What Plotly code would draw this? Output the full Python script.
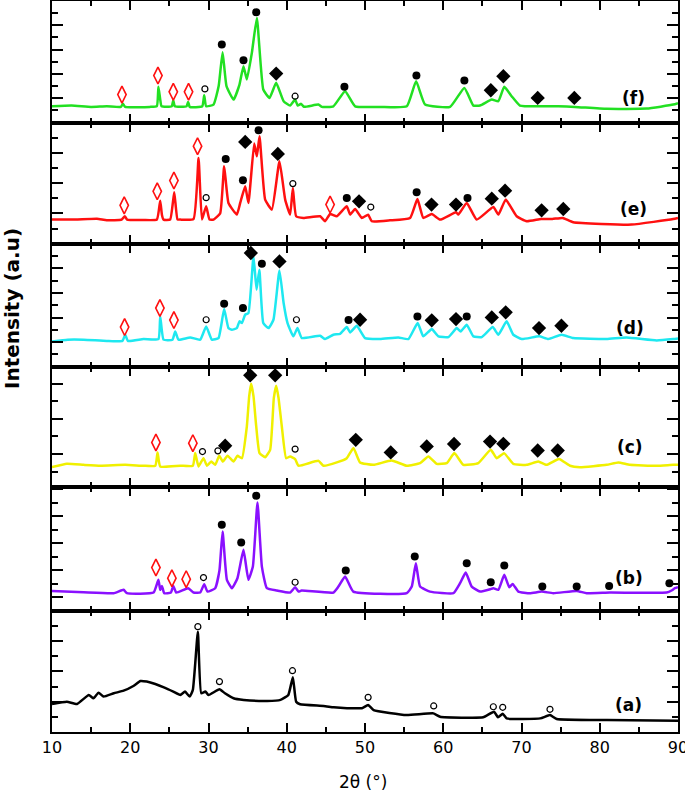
import plotly.graph_objects as go
from plotly.subplots import make_subplots

# XRD patterns, (2theta, intensity), arbitrary units per panel
f_xy = [(10.0, 1.34), (12.5, 1.4), (15.0, 1.29), (17.0, 1.34), (18.8, 1.29), (19.07, 1.54), (19.35, 1.29),
        (22.5, 1.29), (23.4, 1.35), (23.6, 2.94), (23.83, 1.9), (24.0, 1.34), (25.3, 1.34), (25.5, 1.84),
        (25.7, 1.34), (27.2, 1.34), (27.4, 1.70), (27.6, 1.29), (29.2, 1.34), (29.45, 2.25), (29.7, 1.34),
        (30.64, 1.48), (31.3, 3.0), (31.8, 5.79), (32.3, 3.0), (33.2, 1.89), (33.96, 3.13), (34.47, 4.64),
        (34.9, 3.54), (35.54, 5.73), (36.18, 8.61), (37.0, 2.72), (37.8, 2.03), (38.65, 3.27), (39.6, 1.76),
        (40.43, 1.40), (41.07, 1.89), (41.4, 1.4), (41.84, 1.54), (42.2, 1.3), (44.05, 1.48), (44.5, 1.29),
        (45.96, 1.34), (47.46, 2.58), (48.74, 1.34), (52.0, 1.29), (55.34, 1.34), (56.53, 3.40),
        (57.68, 1.48), (60.87, 1.29), (62.7, 2.85), (63.85, 1.40), (64.7, 1.40), (66.19, 1.89),
        (67.04, 1.76), (67.8, 2.94), (68.74, 2.17), (69.8, 1.40), (72.27, 1.34), (74.7, 1.34),
        (76.83, 1.29), (80.87, 1.13), (86.0, 1.15), (89.39, 1.48), (90.0, 1.6)]

e_xy = [(10.0, 1.59), (13.0, 1.6), (15.74, 1.65), (17.0, 1.55), (18.9, 1.59), (19.3, 1.81), (19.6, 1.59),
        (21.7, 1.56), (23.41, 1.6), (23.83, 2.84), (24.05, 1.9), (24.26, 1.59), (25.1, 1.6), (25.62, 3.39),
        (26.04, 1.6), (26.39, 1.59), (28.08, 1.62), (28.73, 5.66), (29.16, 1.59), (29.7, 2.47),
        (30.13, 1.59), (30.64, 1.59), (31.49, 2.0), (32.0, 5.11), (32.55, 2.69), (33.62, 1.92),
        (34.05, 2.69), (34.69, 3.79), (35.1, 2.69), (35.84, 6.61), (36.18, 5.77), (36.52, 7.10),
        (37.24, 2.91), (38.1, 2.25), (39.07, 5.44), (39.8, 2.91), (40.43, 1.92), (40.78, 3.68),
        (41.2, 1.81), (42.13, 1.70), (44.27, 1.81), (44.9, 1.48), (45.54, 1.96), (46.4, 1.81),
        (47.67, 2.47), (48.1, 1.92), (48.74, 2.29), (49.59, 1.70), (50.4, 1.92), (50.87, 1.48),
        (53.2, 1.54), (55.76, 1.70), (56.7, 2.95), (57.45, 1.70), (58.53, 1.96), (59.6, 1.59),
        (61.63, 2.07), (61.93, 1.92), (63.0, 2.69), (64.28, 1.59), (66.4, 2.42), (67.04, 1.92),
        (67.98, 2.91), (69.38, 1.81), (70.66, 1.48), (72.5, 1.63), (73.94, 1.63), (75.26, 1.70),
        (76.61, 1.41), (84.07, 1.26), (89.39, 1.63), (90.0, 1.7)]

d_xy = [(10.0, 2.06), (12.0, 2.2), (14.04, 2.2), (17.0, 2.1), (19.0, 2.1), (19.36, 2.6), (19.7, 2.1),
        (21.7, 2.25), (23.6, 2.25), (23.83, 4.09), (24.26, 2.2), (25.4, 2.2), (25.75, 2.87), (26.17, 2.2),
        (27.66, 2.38), (28.94, 2.2), (29.7, 3.28), (30.43, 2.2), (31.28, 2.33), (32.0, 4.69),
        (32.55, 3.14), (32.99, 3.01), (33.62, 3.14), (33.96, 3.69), (34.27, 3.55), (34.69, 4.23),
        (35.1, 4.36), (35.75, 8.97), (36.14, 6.26), (36.5, 7.89), (37.0, 3.55), (37.67, 3.14),
        (38.3, 3.82), (39.07, 7.83), (39.6, 5.18), (40.1, 3.55), (40.85, 2.47), (41.37, 3.14),
        (41.93, 2.33), (44.27, 2.52), (44.9, 2.25), (45.96, 2.6), (46.82, 2.68), (47.67, 3.22),
        (48.1, 2.79), (48.95, 3.33), (50.0, 2.33), (51.92, 2.25), (54.26, 2.38), (55.54, 2.25),
        (56.73, 3.55), (57.45, 2.47), (58.53, 3.06), (59.38, 2.47), (60.66, 2.41), (61.72, 3.14),
        (62.23, 2.87), (63.0, 3.41), (63.85, 2.47), (64.92, 2.41), (66.32, 3.22), (67.04, 2.6),
        (68.1, 3.69), (68.95, 2.6), (70.02, 2.25), (72.27, 2.47), (73.42, 2.25), (75.12, 2.6),
        (76.61, 2.33), (80.87, 2.25), (83.43, 2.38), (87.26, 2.14), (89.39, 2.25), (90.0, 2.3)]

c_xy = [(10.0, 0.25), (11.9, 0.44), (14.04, 0.38), (16.17, 0.33), (19.36, 0.38), (21.7, 0.33),
        (23.2, 0.33), (23.49, 1.09), (23.83, 0.29), (26.39, 0.33), (28.0, 0.33), (28.3, 1.05),
        (28.72, 0.29), (29.36, 0.76), (29.8, 0.33), (30.35, 0.57), (30.86, 0.38), (31.37, 0.90),
        (31.84, 0.57), (32.43, 0.90), (33.2, 0.57), (33.7, 0.90), (34.27, 0.76), (34.9, 2.57),
        (35.2, 4.3), (35.45, 5.01), (35.75, 4.3), (36.1, 2.57), (36.52, 1.05), (37.24, 0.82),
        (37.88, 1.24), (38.35, 4.2), (38.65, 4.9), (38.95, 4.2), (39.37, 2.57), (39.92, 0.76),
        (40.43, 0.86), (41.07, 0.71), (41.5, 0.33), (44.05, 0.61), (44.69, 0.33), (46.4, 0.52),
        (47.67, 0.76), (48.52, 1.34), (49.37, 0.52), (51.07, 0.38), (53.4, 0.63), (55.34, 0.33),
        (57.04, 0.48), (58.1, 0.86), (59.17, 0.44), (60.45, 0.48), (61.42, 1.05), (62.57, 0.38),
        (64.48, 0.48), (66.07, 1.24), (66.83, 0.76), (67.77, 1.05), (68.95, 0.44), (70.66, 0.38),
        (72.15, 0.57), (73.2, 0.38), (74.8, 0.71), (76.2, 0.33), (77.47, 0.25), (80.88, 0.38),
        (82.37, 0.52), (83.86, 0.38), (87.27, 0.33), (89.39, 0.38), (90.0, 0.38)]

b_xy = [(10.0, 1.48), (14.04, 1.38), (17.87, 1.31), (19.15, 1.56), (19.58, 1.31), (22.98, 1.36),
        (23.6, 2.3), (23.83, 1.56), (24.05, 1.85), (24.34, 1.31), (25.2, 1.36), (25.5, 1.85),
        (25.87, 1.36), (27.4, 1.68), (28.08, 1.36), (28.94, 1.36), (29.45, 1.98), (29.87, 1.43),
        (30.86, 1.68), (31.4, 3.0), (31.8, 5.87), (32.35, 2.3), (32.99, 1.68), (33.7, 2.42),
        (34.47, 4.52), (35.1, 2.3), (35.67, 3.28), (36.26, 8.02), (36.82, 3.28), (37.46, 1.68),
        (38.73, 1.51), (40.43, 1.36), (41.07, 1.75), (41.5, 1.43), (41.9, 1.51), (45.96, 1.36),
        (46.6, 1.8), (47.46, 2.54), (48.5, 1.43), (55.34, 1.31), (55.98, 1.8), (56.5, 3.53),
        (57.04, 1.8), (58.3, 1.43), (61.3, 1.31), (62.15, 2.05), (62.87, 2.84), (63.64, 1.8),
        (64.7, 1.43), (66.0, 1.6), (66.4, 1.68), (67.04, 1.56), (67.8, 2.67), (68.44, 1.75),
        (68.87, 2.0), (69.6, 1.43), (71.09, 1.31), (72.58, 1.43), (74.06, 1.31), (77.05, 1.48),
        (78.33, 1.31), (81.3, 1.36), (88.54, 1.36), (89.18, 1.51), (89.6, 1.68), (90.0, 1.75)]

a_xy = [(10.0, 1.85), (11.9, 2.0), (13.2, 1.85), (14.7, 2.45), (15.3, 2.23), (15.95, 2.6), (16.6, 2.34),
        (17.9, 2.56), (19.15, 2.73), (20.4, 3.04), (21.3, 3.37), (22.1, 3.33), (23.2, 3.17),
        (24.3, 2.95), (25.5, 2.67), (26.4, 2.45), (27.0, 2.67), (27.6, 2.34), (28.0, 2.78),
        (28.64, 6.63), (29.07, 2.56), (29.6, 2.67), (30.0, 2.45), (31.4, 2.82), (32.1, 2.56),
        (33.2, 2.23), (34.5, 2.12), (37.5, 2.05), (39.2, 2.12), (40.2, 2.45), (40.78, 3.62),
        (41.2, 2.0), (41.7, 1.83), (44.7, 1.72), (46.0, 1.63), (47.7, 1.57), (48.5, 1.57),
        (49.6, 1.57), (50.4, 1.78), (51.1, 1.45), (55.3, 1.12), (58.74, 1.23), (59.6, 1.01),
        (65.1, 0.97), (66.49, 1.34), (67.0, 0.97), (67.6, 1.2), (68.1, 0.9), (72.4, 0.9),
        (73.64, 1.12), (74.5, 0.86), (80.9, 0.79), (90.0, 0.75)]

# peak markers: filled circle, filled diamond, open red diamond, small open circle
f_circ = [(31.7, 6.42), (34.47, 5.13), (36.1, 9.08), (47.37, 2.94), (56.57, 3.87), (62.7, 3.46)]
f_dia = [(38.65, 4.03), (66.08, 2.66), (67.68, 3.81), (72.07, 2.03), (76.75, 2.03)]
f_rdia = [(18.94, 2.3), (23.54, 3.87), (25.5, 2.53), (27.45, 2.53)]
f_ocirc = [(29.54, 2.77), (41.07, 2.17)]

e_circ = [(32.2, 5.6), (34.4, 4.19), (36.4, 7.49), (47.67, 3.02), (56.6, 3.39), (63.1, 3.02)]
e_dia = [(34.69, 6.72), (38.86, 5.93), (49.24, 2.8), (58.5, 2.58), (61.63, 2.58), (66.2, 2.97),
         (67.9, 3.5), (72.57, 2.2), (75.34, 2.29)]
e_rdia = [(19.23, 2.53), (23.45, 3.46), (25.58, 4.17), (28.6, 6.44), (45.54, 2.58)]
e_ocirc = [(29.7, 3.04), (40.78, 3.97), (50.74, 2.42)]

d_circ = [(32.0, 5.12), (34.4, 4.77), (36.82, 8.37), (47.9, 3.79), (56.7, 4.09), (63.0, 4.09)]
d_dia = [(35.41, 9.24), (39.07, 8.56), (49.37, 3.82), (58.53, 3.77), (61.63, 3.87), (66.2, 4.01),
         (67.98, 4.42), (72.24, 3.14), (75.1, 3.33)]
d_rdia = [(19.28, 3.22), (23.79, 4.77), (25.58, 3.79)]
d_ocirc = [(29.7, 3.82), (41.24, 3.82)]

c_circ = []
c_dia = [(32.13, 1.47), (35.33, 5.49), (38.52, 5.49), (48.82, 1.81), (53.29, 1.09), (57.89, 1.43),
         (61.38, 1.57), (65.98, 1.71), (67.68, 1.58), (72.07, 1.2), (74.63, 1.2)]
c_rdia = [(23.28, 1.66), (28.0, 1.62)]
c_ocirc = [(29.23, 1.14), (31.2, 1.18), (41.07, 1.28)]

b_circ = [(31.7, 6.37), (34.18, 5.06), (36.1, 8.52), (47.54, 2.99), (56.36, 4.02), (63.0, 3.53),
          (66.07, 2.12), (67.8, 3.36), (72.66, 1.8), (77.05, 1.8), (81.2, 1.85), (88.9, 2.05)]
b_dia = []
b_rdia = [(23.28, 3.21), (25.32, 2.42), (27.15, 2.35)]
b_ocirc = [(29.36, 2.47), (41.07, 2.12)]

a_circ = []
a_dia = []
a_rdia = []
a_ocirc = [(28.64, 6.96), (31.4, 3.33), (40.73, 4.05), (50.4, 2.29), (58.78, 1.72), (66.4, 1.67),
           (67.6, 1.63), (73.64, 1.5)]

labels = ["(f)", "(e)", "(d)", "(c)", "(b)", "(a)"]
label_pos = [(84.3, 2.03), (84.3, 2.29), (83.86, 3.14), (83.86, 1.39), (83.78, 2.42), (83.64, 1.78)]
colors = ["#22e022", "#ff1010", "#1ee8f0", "#f0f000", "#8a10ff", "#000000"]

panels = [
    (f_xy, f_circ, f_dia, f_rdia, f_ocirc),
    (e_xy, e_circ, e_dia, e_rdia, e_ocirc),
    (d_xy, d_circ, d_dia, d_rdia, d_ocirc),
    (c_xy, c_circ, c_dia, c_rdia, c_ocirc),
    (b_xy, b_circ, b_dia, b_rdia, b_ocirc),
    (a_xy, a_circ, a_dia, a_rdia, a_ocirc),
]
# y ranges / tick layout per panel (top to bottom)
y_ranges = [[0, 10], [0, 8], [0, 10], [-0.874, 5.98], [0, 9.18], [0, 8]]
y_tick0 = [0, 0, 0, 1, 1, 0]

fig = make_subplots(rows=6, cols=1, shared_xaxes=True, vertical_spacing=0,
                    row_heights=[121.5, 121, 123, 120, 124, 121])

marker_styles = [
    dict(symbol="circle", size=8, color="black"),
    dict(symbol="diamond", size=11, color="black"),
    dict(symbol="diamond-tall-open", size=12, color="#ff1010", line=dict(width=1.6, color="#ff1010")),
    dict(symbol="circle-open", size=6, color="black", line=dict(width=1.2, color="black")),
]

for i, (curve, *marks) in enumerate(panels):
    row = i + 1
    xs, ys = zip(*curve)
    fig.add_trace(go.Scatter(x=xs, y=ys, mode="lines",
                             line=dict(color=colors[i], width=2.5, shape="spline", smoothing=0.4)),
                  row=row, col=1)
    for pts, ms in zip(marks, marker_styles):
        if not pts:
            continue
        mx, my = zip(*pts)
        fig.add_trace(go.Scatter(x=mx, y=my, mode="markers", marker=ms, cliponaxis=False),
                      row=row, col=1)
    fig.add_annotation(x=label_pos[i][0], y=label_pos[i][1], text=labels[i], showarrow=False,
                       font=dict(family="DejaVu Sans", size=17, color="black", weight="bold"),
                       row=row, col=1)
    fig.update_yaxes(range=y_ranges[i], tick0=y_tick0[i], dtick=2,
                     minor=dict(dtick=1, tick0=0, ticks="inside", ticklen=6, tickwidth=2, tickcolor="black"),
                     row=row, col=1)

fig.update_xaxes(range=[10, 90], tick0=10, dtick=10, ticks="inside", ticklen=9, tickwidth=2,
                 tickcolor="black", showline=True, linecolor="black", linewidth=2, mirror="allticks",
                 showgrid=False, zeroline=False, automargin=False, ticklabeloverflow="allow",
                 minor=dict(dtick=5, ticks="inside", ticklen=5, tickwidth=2, tickcolor="black"),
                 tickfont=dict(family="DejaVu Sans", size=16, color="black"))
fig.update_yaxes(showticklabels=False, ticks="inside", ticklen=11, tickwidth=2, tickcolor="black",
                 showline=True, linecolor="black", linewidth=2, mirror="allticks",
                 showgrid=False, zeroline=False, automargin=False)

fig.add_annotation(text="2θ (°)", xref="paper", yref="paper", x=0.497, y=-0.068,
                   xanchor="center", yanchor="middle",
                   showarrow=False, font=dict(family="DejaVu Sans", size=17, color="black"))
fig.add_annotation(text="Intensity (a.u)", xref="paper", yref="paper", x=-0.064, y=0.58,
                   xanchor="center", yanchor="middle", textangle=-90, showarrow=False,
                   font=dict(family="DejaVu Sans", size=20, color="black", weight="bold"))

fig.update_layout(width=685, height=799, showlegend=False,
                  margin=dict(l=52, r=7, t=1, b=67),
                  plot_bgcolor="white", paper_bgcolor="white")

fig.write_html("out.html", config={"displayModeBar": False},
               post_script="document.body.style.margin='0';")
